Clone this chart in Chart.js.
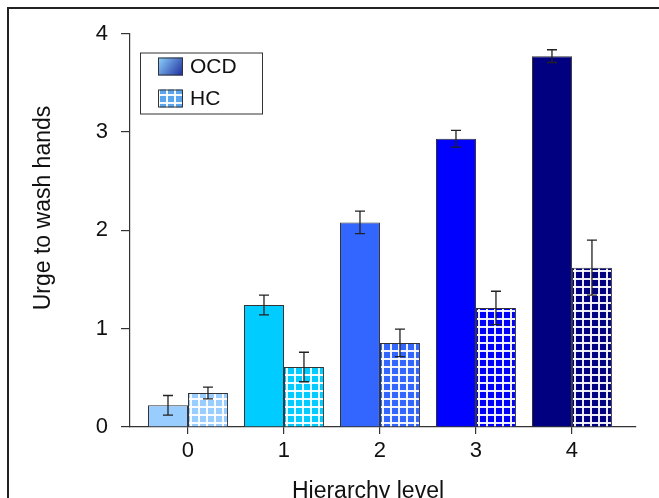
<!DOCTYPE html>
<html>
<head>
<meta charset="utf-8">
<script src="https://cdn.jsdelivr.net/npm/chart.js@4.4.0/dist/chart.umd.min.js"></script>
<style>
  html, body { margin: 0; padding: 0; background: #fff; overflow: hidden; }
  #wrap { position: relative; width: 659px; height: 498px; }
  #frame { position: absolute; left: 7px; top: 7px; width: 700px; height: 600px;
           border-top: 2px solid #222; border-left: 2px solid #222; }
  canvas { position: absolute; left: 0; top: 0; }
</style>
</head>
<body>
<div id="wrap">
  <div id="frame"></div>
  <canvas id="chart" width="659" height="498"></canvas>
</div>
<script>
// hierarchy levels on the x axis
const levels = [0, 1, 2, 3, 4];
const yTicks = [0, 1, 2, 3, 4];

// means and error bars
const ocdMeans  = [0.22, 1.24, 2.08, 2.93, 3.77];
const ocdErrors = [0.10, 0.10, 0.115, 0.085, 0.065];
const hcMeans   = [0.345, 0.61, 0.855, 1.21, 1.62];
const hcErrors  = [0.06, 0.15, 0.14, 0.17, 0.28];

const levelColors = ['#99ccff', '#00ccff', '#3366ff', '#0000ff', '#000080'];

const FONT = 'Liberation Sans, Arial, sans-serif';

// white grid hatch on top of a colour
function gridPattern(color) {
  const c = document.createElement('canvas');
  c.width = 8; c.height = 8;
  const g = c.getContext('2d');
  g.fillStyle = color;
  g.fillRect(0, 0, 8, 8);
  g.fillStyle = 'rgba(255,255,255,0.92)';
  g.fillRect(6, 0, 2, 8);
  g.fillRect(0, 6, 8, 2);
  return g.createPattern(c, 'repeat');
}

const errorBars = {
  id: 'errorBars',
  afterDatasetsDraw(chart) {
    const ctx = chart.ctx;
    const y = chart.scales.y;
    chart.data.datasets.forEach((ds, di) => {
      const meta = chart.getDatasetMeta(di);
      meta.data.forEach((bar, i) => {
        const v = ds.data[i].y, e = ds.errors[i];
        const top = y.getPixelForValue(v + e);
        const bot = y.getPixelForValue(v - e);
        ctx.save();
        ctx.strokeStyle = '#222';
        ctx.lineWidth = 1.3;
        ctx.beginPath();
        ctx.moveTo(bar.x, top); ctx.lineTo(bar.x, bot);
        ctx.moveTo(bar.x - 5, top); ctx.lineTo(bar.x + 5, top);
        ctx.moveTo(bar.x - 5, bot); ctx.lineTo(bar.x + 5, bot);
        ctx.stroke();
        ctx.restore();
      });
    });
  }
};

// boxed legend inside the plot plus the two axis titles
const extras = {
  id: 'extras',
  afterDraw(chart) {
    const ctx = chart.ctx;
    const a = chart.chartArea;
    ctx.save();

    // legend box
    const bx = a.left + 10, by = a.top + 19;
    ctx.strokeStyle = '#333';
    ctx.lineWidth = 1;
    ctx.strokeRect(bx + 0.5, by + 0.5, 122, 61);

    const sx = bx + 18;
    const grad = ctx.createLinearGradient(sx, by + 5, sx + 25, by + 23);
    grad.addColorStop(0, '#8fd4ff');
    grad.addColorStop(1, '#1c2c9c');
    ctx.fillStyle = grad;
    ctx.fillRect(sx, by + 5, 25, 18);
    ctx.strokeRect(sx + 0.5, by + 5.5, 24, 17);

    ctx.fillStyle = gridPattern('#5aa6ee');
    ctx.fillRect(sx, by + 37, 25, 18);
    ctx.strokeRect(sx + 0.5, by + 37.5, 24, 17);

    ctx.fillStyle = '#111';
    ctx.font = '21px ' + FONT;
    ctx.textBaseline = 'middle';
    ctx.textAlign = 'left';
    chart.data.datasets.forEach((ds, i) => {
      ctx.fillText(ds.label, sx + 32, by + 15 + i * 32);
    });

    // axis titles
    ctx.font = '23px ' + FONT;
    ctx.textBaseline = 'alphabetic';
    ctx.textAlign = 'center';
    ctx.fillText('Hierarchy level', 368, 498);
    ctx.translate(50, 208);
    ctx.rotate(-Math.PI / 2);
    ctx.fillText('Urge to wash hands', 0, 0);
    ctx.restore();
  }
};

new Chart(document.getElementById('chart'), {
  type: 'bar',
  data: {
    datasets: [
      {
        label: 'OCD',
        data: levels.map((l, i) => ({ x: l, y: ocdMeans[i] })),
        errors: ocdErrors,
        backgroundColor: levelColors,
        borderColor: '#333',
        borderWidth: 1
      },
      {
        label: 'HC',
        data: levels.map((l, i) => ({ x: l, y: hcMeans[i] })),
        errors: hcErrors,
        backgroundColor: levelColors.map(gridPattern),
        borderColor: '#333',
        borderWidth: 1
      }
    ]
  },
  options: {
    responsive: false,
    animation: false,
    layout: { padding: { left: 0, top: 33.5, right: 23, bottom: 0 } },
    plugins: { legend: { display: false }, tooltip: { enabled: false } },
    datasets: { bar: { categoryPercentage: 0.833, barPercentage: 1 } },
    scales: {
      x: {
        type: 'linear',
        offset: false,
        min: -0.604,
        max: 4.667,
        afterFit(s) { s.height = 71; },
        afterBuildTicks(s) { s.ticks = levels.map(v => ({ value: v })); },
        ticks: { padding: 4, color: '#111', font: { family: FONT, size: 22 } },
        grid: { offset: false, drawOnChartArea: false, tickLength: 7, color: '#333', lineWidth: 1.2 },
        border: { color: '#333', width: 1.2 }
      },
      y: {
        min: 0,
        max: 4,
        afterFit(s) { s.width = 130; },
        afterBuildTicks(s) { s.ticks = yTicks.map(v => ({ value: v })); },
        ticks: { padding: 13, color: '#111', font: { family: FONT, size: 22 } },
        grid: { drawOnChartArea: false, tickLength: 9, color: '#333', lineWidth: 1.2 },
        border: { color: '#333', width: 1.2 }
      }
    }
  },
  plugins: [errorBars, extras]
});
</script>
</body>
</html>
